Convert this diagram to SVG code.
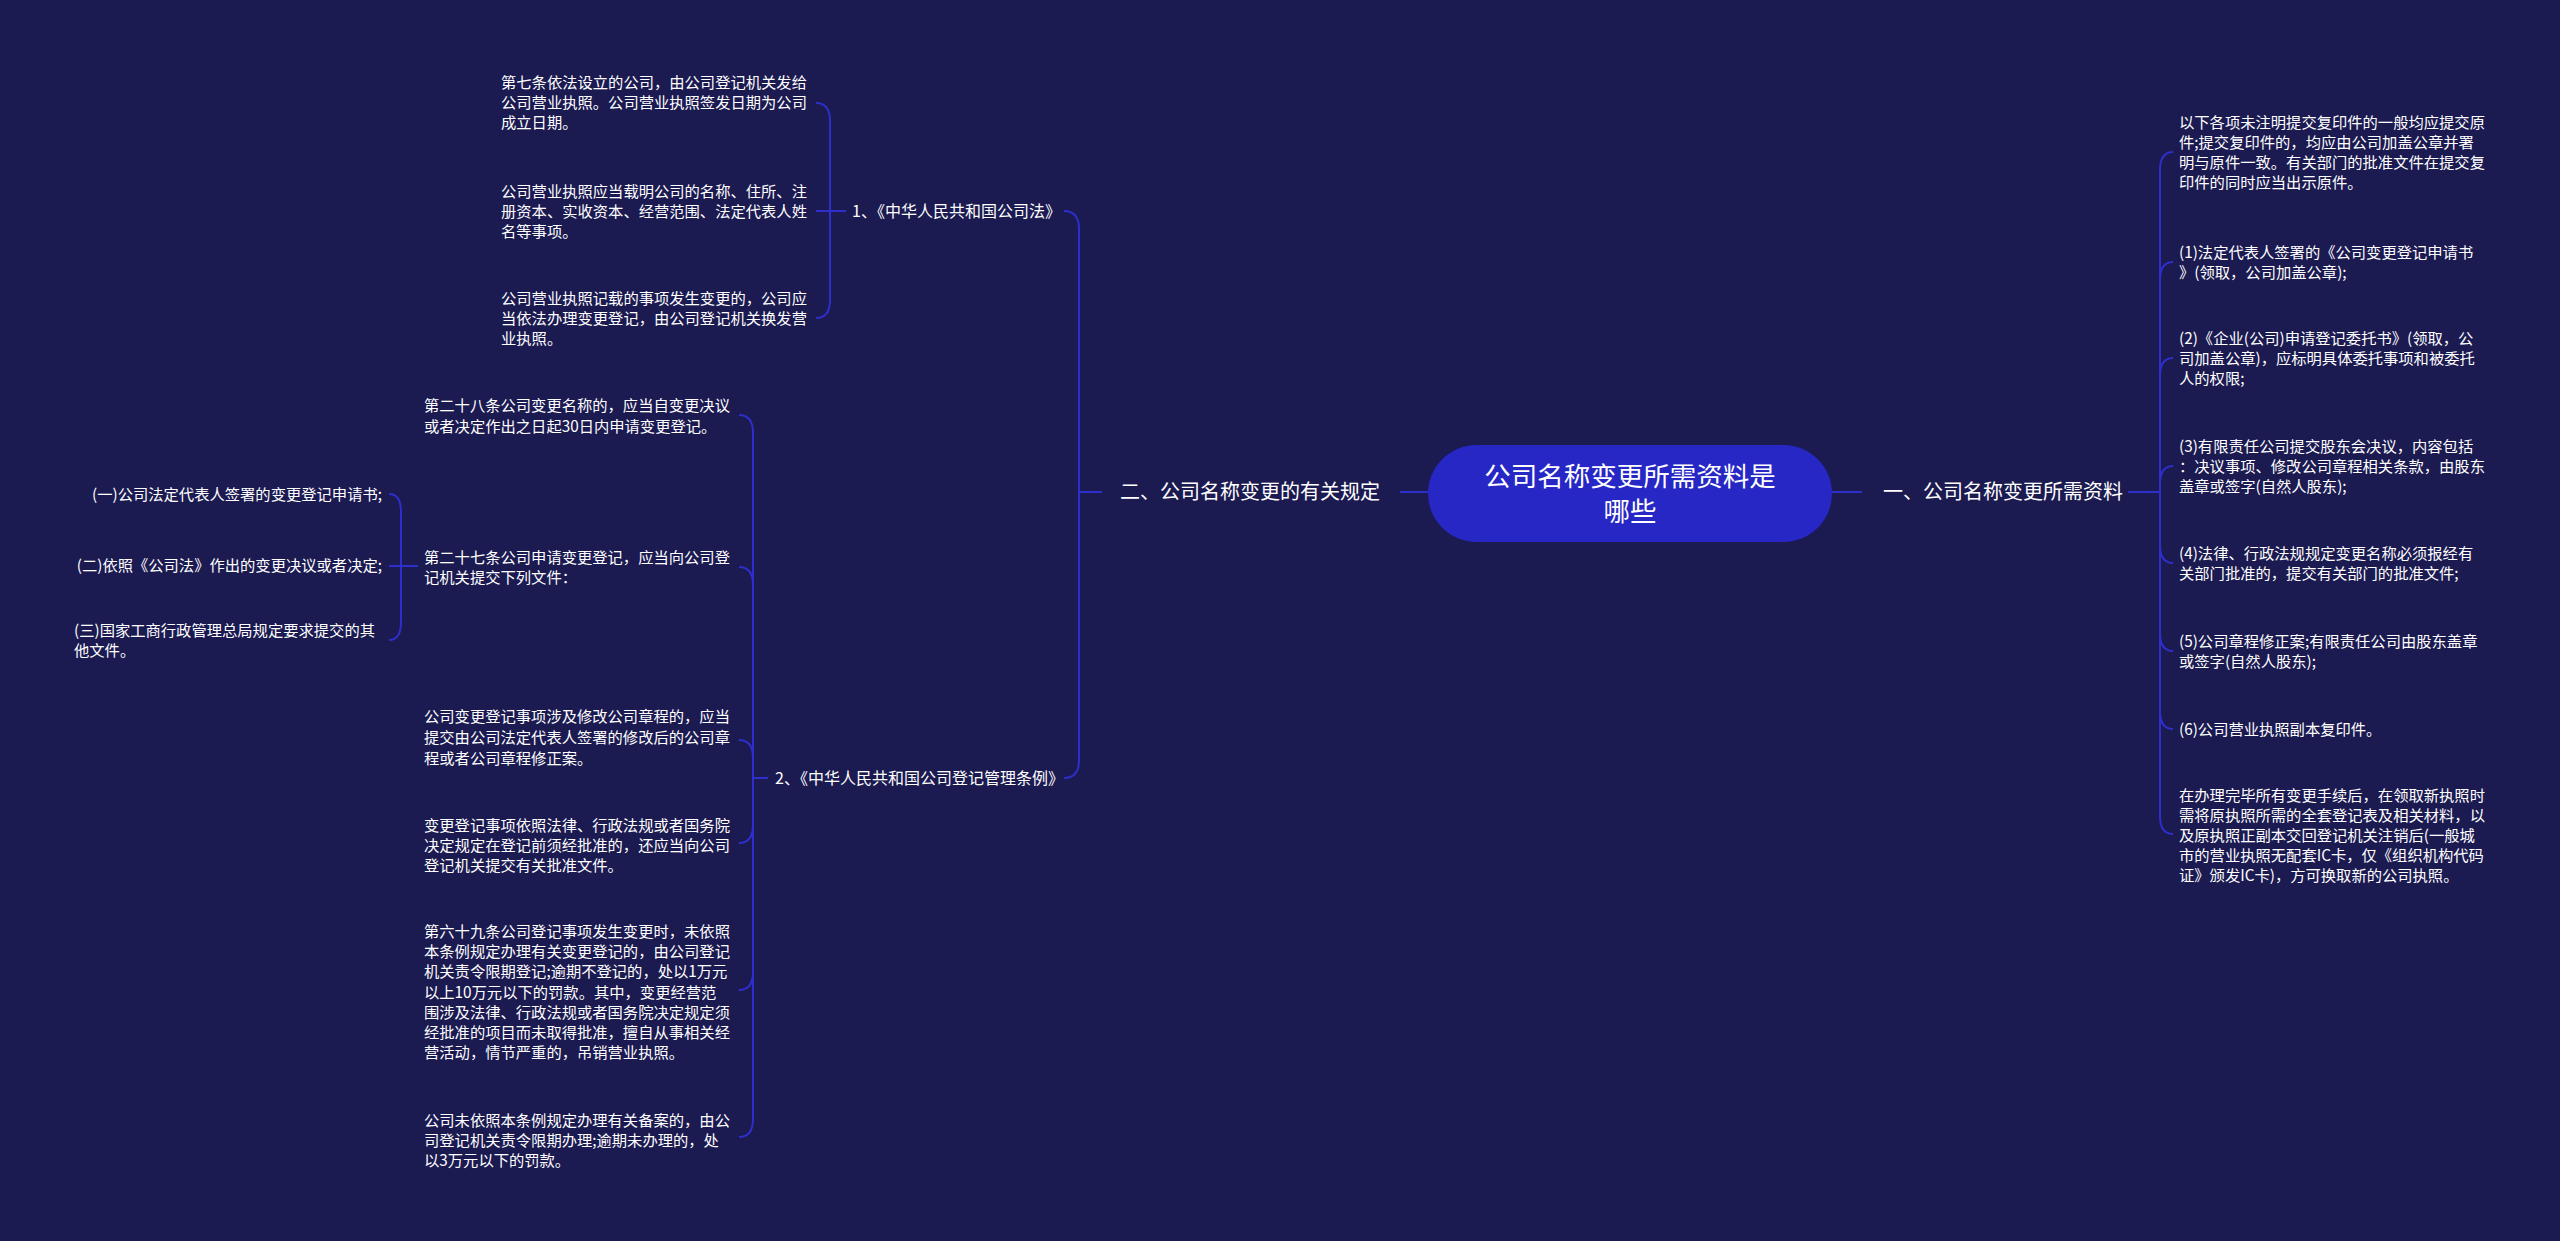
<svg xmlns="http://www.w3.org/2000/svg" width="2560" height="1241" viewBox="0 0 2560 1241">
<style>
.bg{fill:#1b1a51}
.t{font-family:"Noto Sans CJK SC","Noto Sans",sans-serif;fill:#ffffff;font-size:15.3px}
.l1{font-size:20px}
.l2{font-size:16px}
.root{font-size:26.5px}
.c{fill:none;stroke:#2e2ecb;stroke-width:2}
.pill{fill:#2727c6}
</style>
<rect class="bg" x="0" y="0" width="2560" height="1241"/>
<g id="connectors">
<path class="c" d="M1832 492 L1862 492"/>
<path class="c" d="M1400 492 L1428 492"/>
<path class="c" d="M2128 492 L2160 492"/>
<path class="c" d="M2160 492 L2160 170 Q2160 152 2173 152"/>
<path class="c" d="M2160 492 L2160 280 Q2160 262 2173 262"/>
<path class="c" d="M2160 492 L2160 376 Q2160 358 2173 358"/>
<path class="c" d="M2160 492 L2160 484 Q2160 466 2173 466"/>
<path class="c" d="M2160 492 L2160 545 Q2160 563 2173 563"/>
<path class="c" d="M2160 492 L2160 633 Q2160 651 2173 651"/>
<path class="c" d="M2160 492 L2160 711 Q2160 729 2173 729"/>
<path class="c" d="M2160 492 L2160 816 Q2160 834 2173 834"/>
<path class="c" d="M1079 492 L1102 492"/>
<path class="c" d="M1079 492 L1079 229 Q1079 211 1064 211"/>
<path class="c" d="M1079 492 L1079 760 Q1079 778 1064 778"/>
<path class="c" d="M830 211 L846 211"/>
<path class="c" d="M830 211 L830 121 Q830 103 816 103"/>
<path class="c" d="M830 211 L816 211"/>
<path class="c" d="M830 211 L830 300 Q830 318 816 318"/>
<path class="c" d="M753 778 L768 778"/>
<path class="c" d="M753 778 L753 433 Q753 415 739 415"/>
<path class="c" d="M753 778 L753 585 Q753 567 739 567"/>
<path class="c" d="M753 778 L753 758 Q753 740 739 740"/>
<path class="c" d="M753 778 L753 825 Q753 843 739 843"/>
<path class="c" d="M753 778 L753 972 Q753 990 739 990"/>
<path class="c" d="M753 778 L753 1119 Q753 1137 739 1137"/>
<path class="c" d="M401 566 L418 566"/>
<path class="c" d="M401 566 L401 512 Q401 494 389 494"/>
<path class="c" d="M401 566 L389 566"/>
<path class="c" d="M401 566 L401 622 Q401 640 389 640"/>
</g>
<g id="root">
<rect class="pill" x="1428" y="445" width="404" height="97" rx="48.5"/>
<text class="t root" text-anchor="middle"><tspan x="1630" y="486">公司名称变更所需资料是</tspan><tspan x="1630" y="521">哪些</tspan></text>
</g>
<g id="n-right">
<text class="t l1" x="1883" y="499">一、公司名称变更所需资料</text>
</g>
<g id="n-r0"><text class="t"><tspan x="2179" y="128">以下各项未注明提交复印件的一般均应提交原</tspan><tspan x="2179" y="148">件;提交复印件的，均应由公司加盖公章并署</tspan><tspan x="2179" y="168">明与原件一致。有关部门的批准文件在提交复</tspan><tspan x="2179" y="188">印件的同时应当出示原件。</tspan></text></g>
<g id="n-r1"><text class="t"><tspan x="2179" y="258">(1)法定代表人签署的《公司变更登记申请书</tspan><tspan x="2179" y="278">》(领取，公司加盖公章);</tspan></text></g>
<g id="n-r2"><text class="t"><tspan x="2179" y="344">(2)《企业(公司)申请登记委托书》(领取，公</tspan><tspan x="2179" y="364">司加盖公章)，应标明具体委托事项和被委托</tspan><tspan x="2179" y="384">人的权限;</tspan></text></g>
<g id="n-r3"><text class="t"><tspan x="2179" y="452">(3)有限责任公司提交股东会决议，内容包括</tspan><tspan x="2179" y="472">：决议事项、修改公司章程相关条款，由股东</tspan><tspan x="2179" y="492">盖章或签字(自然人股东);</tspan></text></g>
<g id="n-r4"><text class="t"><tspan x="2179" y="559">(4)法律、行政法规规定变更名称必须报经有</tspan><tspan x="2179" y="579">关部门批准的，提交有关部门的批准文件;</tspan></text></g>
<g id="n-r5"><text class="t"><tspan x="2179" y="647">(5)公司章程修正案;有限责任公司由股东盖章</tspan><tspan x="2179" y="667">或签字(自然人股东);</tspan></text></g>
<g id="n-r6"><text class="t"><tspan x="2179" y="735">(6)公司营业执照副本复印件。</tspan></text></g>
<g id="n-r7"><text class="t"><tspan x="2179" y="801">在办理完毕所有变更手续后，在领取新执照时</tspan><tspan x="2179" y="821">需将原执照所需的全套登记表及相关材料，以</tspan><tspan x="2179" y="841">及原执照正副本交回登记机关注销后(一般城</tspan><tspan x="2179" y="861">市的营业执照无配套IC卡，仅《组织机构代码</tspan><tspan x="2179" y="881">证》颁发IC卡)，方可换取新的公司执照。</tspan></text></g>
<g id="n-left">
<text class="t l1" x="1120" y="499">二、公司名称变更的有关规定</text>
</g>
<g id="n-law1"><text class="t l2" x="852" y="217">1、《中华人民共和国公司法》</text></g>
<g id="n-a"><text class="t"><tspan x="501" y="88">第七条依法设立的公司，由公司登记机关发给</tspan><tspan x="501" y="108">公司营业执照。公司营业执照签发日期为公司</tspan><tspan x="501" y="128">成立日期。</tspan></text></g>
<g id="n-b"><text class="t"><tspan x="501" y="197">公司营业执照应当载明公司的名称、住所、注</tspan><tspan x="501" y="217">册资本、实收资本、经营范围、法定代表人姓</tspan><tspan x="501" y="237">名等事项。</tspan></text></g>
<g id="n-c"><text class="t"><tspan x="501" y="304">公司营业执照记载的事项发生变更的，公司应</tspan><tspan x="501" y="324">当依法办理变更登记，由公司登记机关换发营</tspan><tspan x="501" y="344">业执照。</tspan></text></g>
<g id="n-law2"><text class="t l2" x="775" y="784">2、《中华人民共和国公司登记管理条例》</text></g>
<g id="n-d"><text class="t"><tspan x="424" y="411">第二十八条公司变更名称的，应当自变更决议</tspan><tspan x="424" y="432">或者决定作出之日起30日内申请变更登记。</tspan></text></g>
<g id="n-e"><text class="t"><tspan x="424" y="563">第二十七条公司申请变更登记，应当向公司登</tspan><tspan x="424" y="583">记机关提交下列文件：</tspan></text></g>
<g id="n-f"><text class="t" x="382" y="500" text-anchor="end">(一)公司法定代表人签署的变更登记申请书;</text></g>
<g id="n-g"><text class="t" x="382" y="571" text-anchor="end">(二)依照《公司法》作出的变更决议或者决定;</text></g>
<g id="n-h"><text class="t"><tspan x="74" y="636">(三)国家工商行政管理总局规定要求提交的其</tspan><tspan x="74" y="656">他文件。</tspan></text></g>
<g id="n-i"><text class="t"><tspan x="424" y="722">公司变更登记事项涉及修改公司章程的，应当</tspan><tspan x="424" y="743">提交由公司法定代表人签署的修改后的公司章</tspan><tspan x="424" y="764">程或者公司章程修正案。</tspan></text></g>
<g id="n-j"><text class="t"><tspan x="424" y="831">变更登记事项依照法律、行政法规或者国务院</tspan><tspan x="424" y="851">决定规定在登记前须经批准的，还应当向公司</tspan><tspan x="424" y="871">登记机关提交有关批准文件。</tspan></text></g>
<g id="n-k"><text class="t"><tspan x="424" y="937">第六十九条公司登记事项发生变更时，未依照</tspan><tspan x="424" y="957">本条例规定办理有关变更登记的，由公司登记</tspan><tspan x="424" y="977">机关责令限期登记;逾期不登记的，处以1万元</tspan><tspan x="424" y="998">以上10万元以下的罚款。其中，变更经营范</tspan><tspan x="424" y="1018">围涉及法律、行政法规或者国务院决定规定须</tspan><tspan x="424" y="1038">经批准的项目而未取得批准，擅自从事相关经</tspan><tspan x="424" y="1058">营活动，情节严重的，吊销营业执照。</tspan></text></g>
<g id="n-l"><text class="t"><tspan x="424" y="1126">公司未依照本条例规定办理有关备案的，由公</tspan><tspan x="424" y="1146">司登记机关责令限期办理;逾期未办理的，处</tspan><tspan x="424" y="1166">以3万元以下的罚款。</tspan></text></g>
</svg>
